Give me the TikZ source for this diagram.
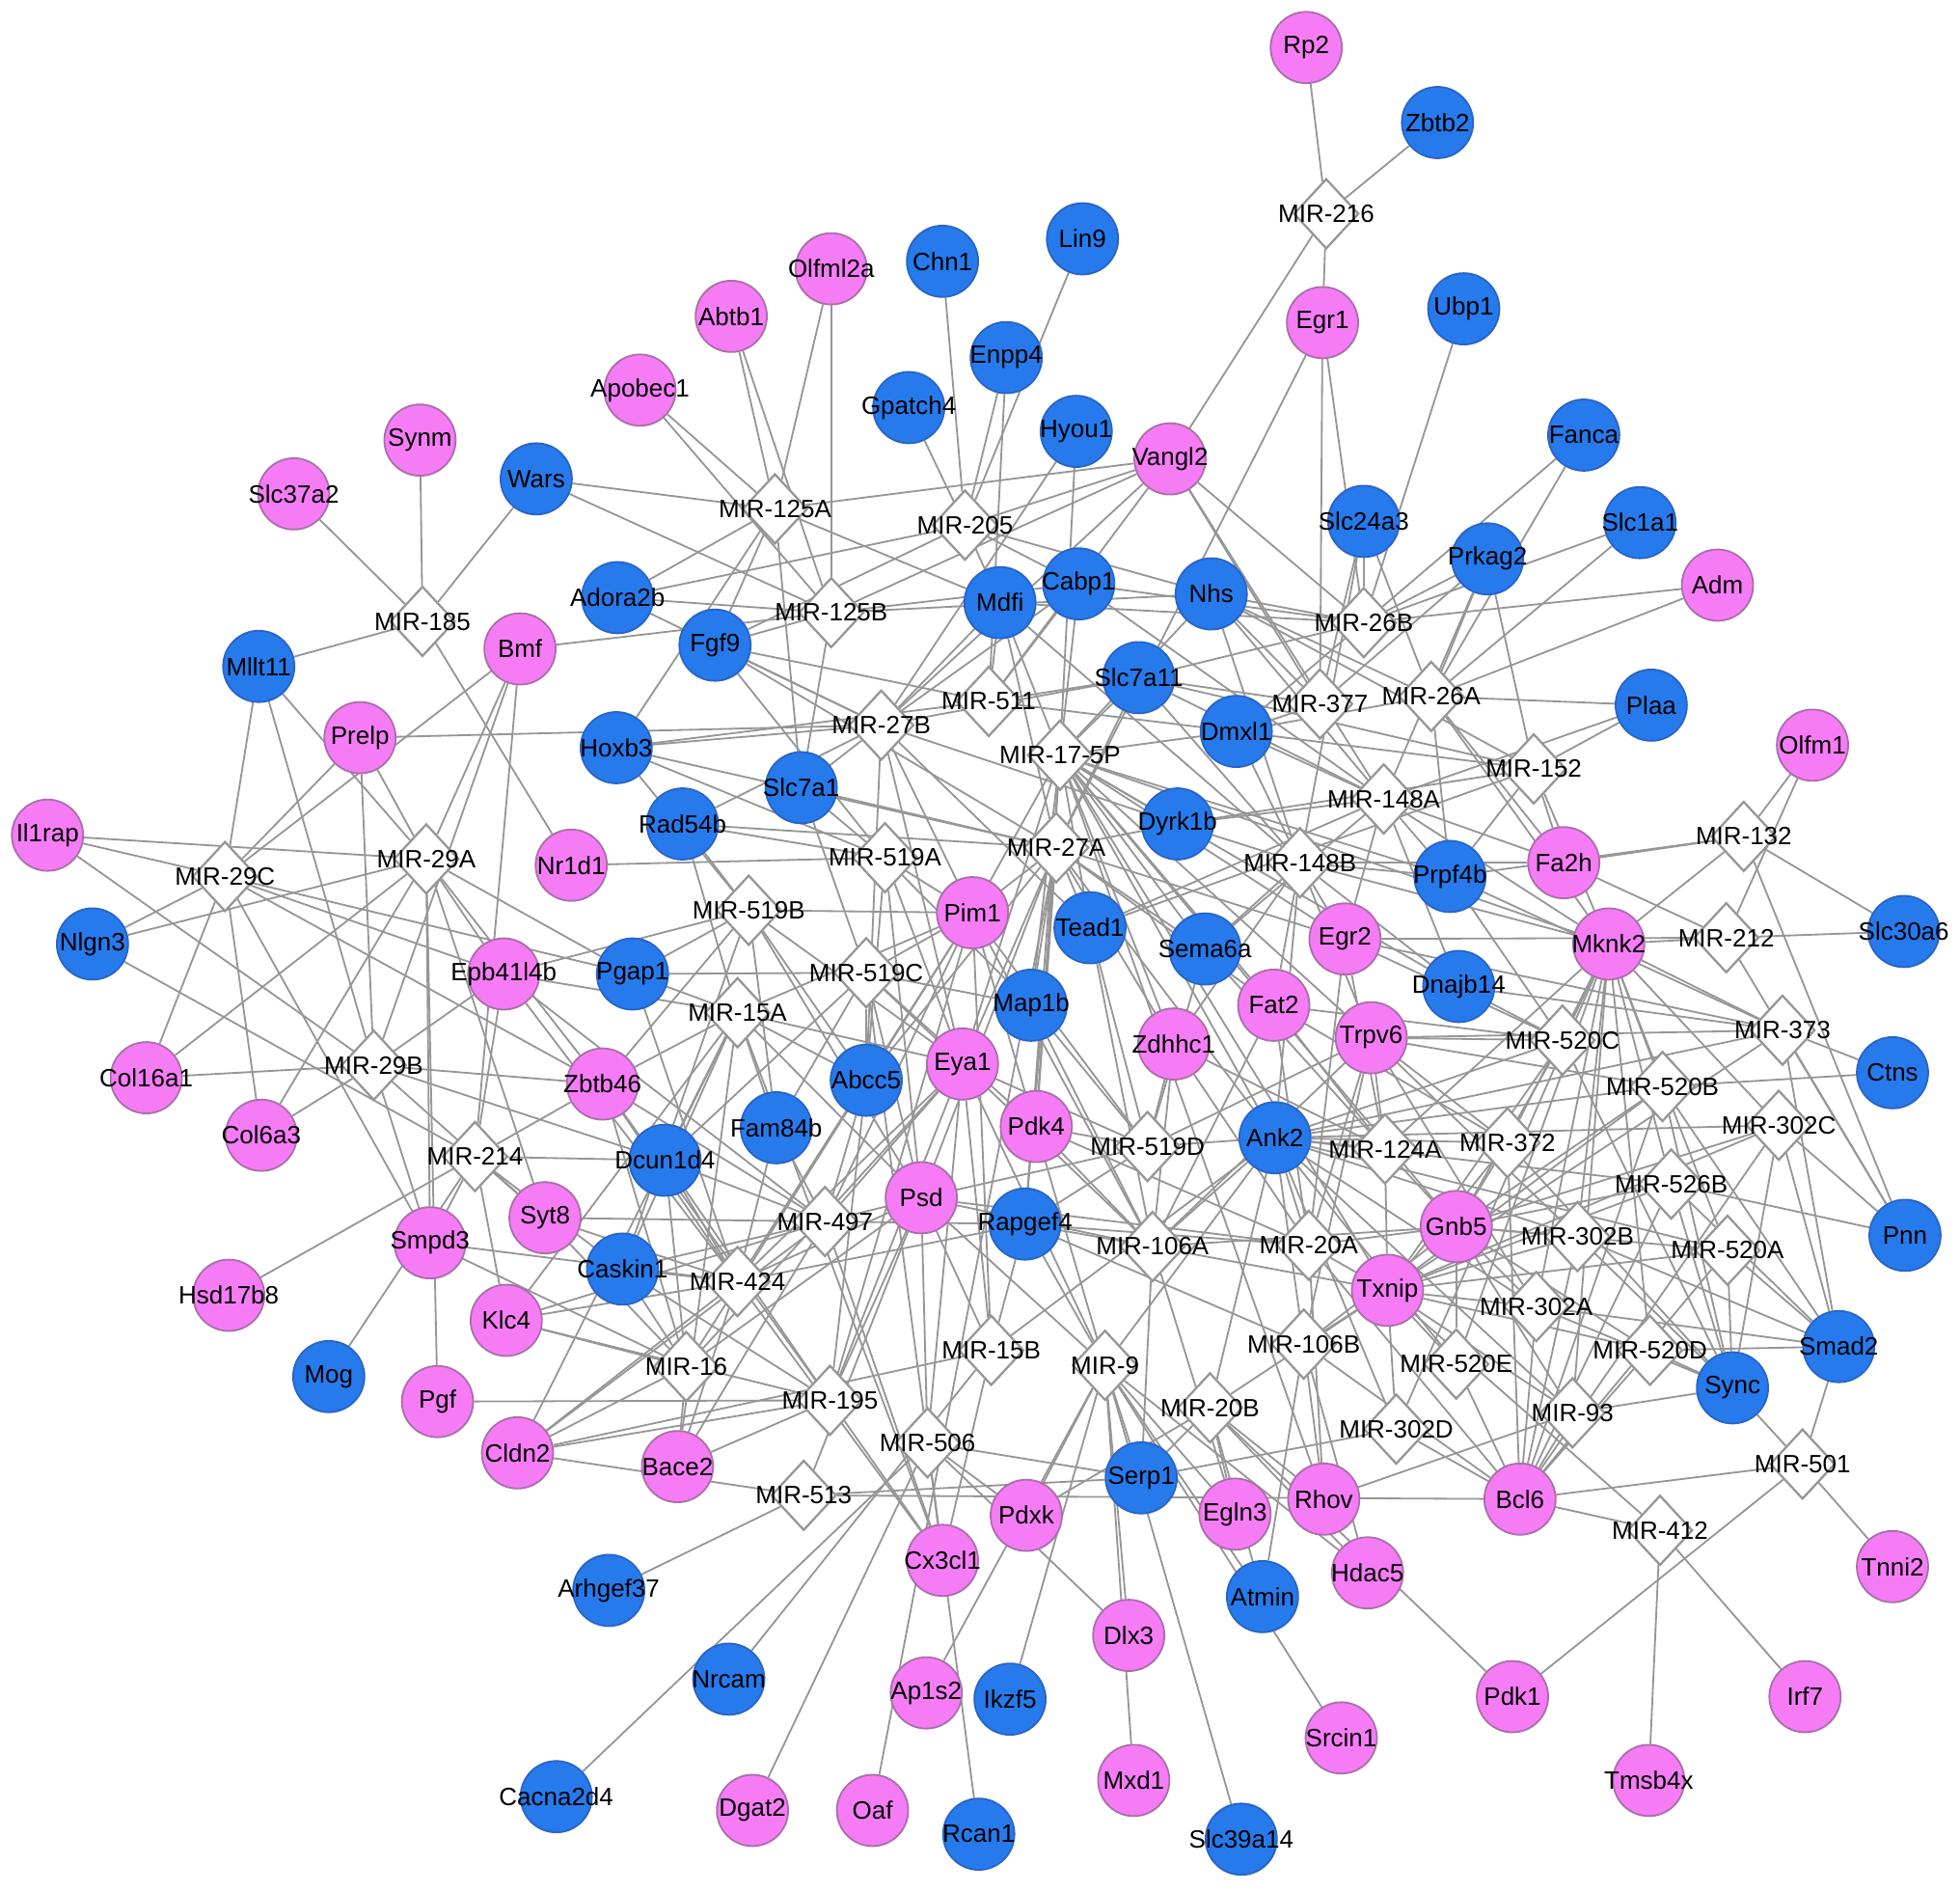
\documentclass[tikz,border=0pt]{standalone}
\usepackage{fontspec}
\setmainfont{Liberation Sans}
\usetikzlibrary{shapes.geometric}
\pgfdeclarelayer{back}
\pgfdeclarelayer{bg}
\pgfsetlayers{back,bg,main}
\definecolor{pk}{RGB}{246,124,246}
\definecolor{pkd}{RGB}{170,110,170}
\definecolor{bl}{RGB}{38,122,236}
\definecolor{bld}{RGB}{40,100,200}
\definecolor{lnc}{RGB}{150,150,150}
\newcommand\nodefont{\fontsize{5.7}{6.5}\selectfont}
\newcommand\gn[4]{\node[#1,label={center:#4}] (#2) at (#3) {};}
\tikzset{
  gp/.style={circle, fill=pk, draw=pkd, line width=0.4pt, minimum size=0.57cm, inner sep=0pt},
  gb/.style={circle, fill=bl, draw=bld, line width=0.4pt, minimum size=0.57cm, inner sep=0pt},
  mir/.style={diamond, fill=white, draw=lnc, line width=0.5pt, minimum width=0.52cm, minimum height=0.56cm, inner sep=0pt},
  lnk/.style={draw=lnc, line width=0.4pt},
  every label/.style={font=\nodefont, inner sep=0pt, text=black}
}
\begin{document}
\begin{tikzpicture}[x=0.01cm,y=-0.01cm]
\begin{pgfonlayer}{back}
\fill[white] (0,0) rectangle (1568,1512);
\end{pgfonlayer}
\useasboundingbox (0,0) rectangle (1568,1512);
% miRNA diamonds
\gn{mir}{m216}{1061,171}{MIR-216}
\gn{mir}{m125a}{620,407}{MIR-125A}
\gn{mir}{m205}{772,420}{MIR-205}
\gn{mir}{m185}{338,497}{MIR-185}
\gn{mir}{m125b}{665,490}{MIR-125B}
\gn{mir}{m26b}{1091,498}{MIR-26B}
\gn{mir}{m26a}{1145,557}{MIR-26A}
\gn{mir}{m511}{791,561}{MIR-511}
\gn{mir}{m377}{1056,563}{MIR-377}
\gn{mir}{m27b}{705,580}{MIR-27B}
\gn{mir}{m175p}{848,604}{MIR-17-5P}
\gn{mir}{m152}{1227,615}{MIR-152}
\gn{mir}{m148a}{1107,639}{MIR-148A}
\gn{mir}{m132}{1395,669}{MIR-132}
\gn{mir}{m27a}{845,678}{MIR-27A}
\gn{mir}{m519a}{708,686}{MIR-519A}
\gn{mir}{m29a}{341,687}{MIR-29A}
\gn{mir}{m29c}{180,701}{MIR-29C}
\gn{mir}{m148b}{1040,690}{MIR-148B}
\gn{mir}{m519b}{599,728}{MIR-519B}
\gn{mir}{m212}{1381,750}{MIR-212}
\gn{mir}{m519c}{693,778}{MIR-519C}
\gn{mir}{m15a}{590,810}{MIR-15A}
\gn{mir}{m373}{1426,824}{MIR-373}
\gn{mir}{m520c}{1250,832}{MIR-520C}
\gn{mir}{m29b}{299,852}{MIR-29B}
\gn{mir}{m520b}{1330,869}{MIR-520B}
\gn{mir}{m302c}{1423,900}{MIR-302C}
\gn{mir}{m519d}{918,917}{MIR-519D}
\gn{mir}{m124a}{1108,919}{MIR-124A}
\gn{mir}{m372}{1206,914}{MIR-372}
\gn{mir}{m214}{380,925}{MIR-214}
\gn{mir}{m526b}{1337,947}{MIR-526B}
\gn{mir}{m497}{660,977}{MIR-497}
\gn{mir}{m106a}{922,997}{MIR-106A}
\gn{mir}{m20a}{1047,996}{MIR-20A}
\gn{mir}{m302b}{1262,989}{MIR-302B}
\gn{mir}{m520a}{1382,1000}{MIR-520A}
\gn{mir}{m424}{590,1025}{MIR-424}
\gn{mir}{m302a}{1229,1045}{MIR-302A}
\gn{mir}{m106b}{1043,1075}{MIR-106B}
\gn{mir}{m520d}{1320,1080}{MIR-520D}
\gn{mir}{m15b}{793,1080}{MIR-15B}
\gn{mir}{m9}{884,1092}{MIR-9}
\gn{mir}{m520e}{1165,1091}{MIR-520E}
\gn{mir}{m16}{549,1093}{MIR-16}
\gn{mir}{m195}{664,1120}{MIR-195}
\gn{mir}{m302d}{1117,1143}{MIR-302D}
\gn{mir}{m93}{1258,1130}{MIR-93}
\gn{mir}{m20b}{968,1126}{MIR-20B}
\gn{mir}{m506}{742,1154}{MIR-506}
\gn{mir}{m501}{1442,1171}{MIR-501}
\gn{mir}{m513}{643,1196}{MIR-513}
\gn{mir}{m412}{1328,1224}{MIR-412}
% pink genes
\gn{gp}{rp2}{1045,38}{Rp2}
\gn{gp}{olfml2a}{665,215}{Olfml2a}
\gn{gp}{abtb1}{585,253}{Abtb1}
\gn{gp}{egr1}{1058,258}{Egr1}
\gn{gp}{apobec1}{512,312}{Apobec1}
\gn{gp}{synm}{336,352}{Synm}
\gn{gp}{slc37a2}{235,395}{Slc37a2}
\gn{gp}{vangl2}{936,367}{Vangl2}
\gn{gp}{adm}{1374,468}{Adm}
\gn{gp}{bmf}{416,519}{Bmf}
\gn{gp}{prelp}{288,590}{Prelp}
\gn{gp}{olfm1}{1450,596}{Olfm1}
\gn{gp}{il1rap}{38,668}{Il1rap}
\gn{gp}{nr1d1}{457,692}{Nr1d1}
\gn{gp}{fa2h}{1251,690}{Fa2h}
\gn{gp}{pim1}{778,730}{Pim1}
\gn{gp}{mknk2}{1287,755}{Mknk2}
\gn{gp}{egr2}{1076,751}{Egr2}
\gn{gp}{epb}{403,779}{Epb41l4b}
\gn{gp}{fat2}{1019,804}{Fat2}
\gn{gp}{trpv6}{1097,830}{Trpv6}
\gn{gp}{zdhhc1}{939,835}{Zdhhc1}
\gn{gp}{eya1}{770,851}{Eya1}
\gn{gp}{col16a1}{117,862}{Col16a1}
\gn{gp}{zbtb46}{482,867}{Zbtb46}
\gn{gp}{col6a3}{209,908}{Col6a3}
\gn{gp}{pdk4}{829,901}{Pdk4}
\gn{gp}{psd}{737,958}{Psd}
\gn{gp}{syt8}{436,974}{Syt8}
\gn{gp}{gnb5}{1165,981}{Gnb5}
\gn{gp}{smpd3}{344,994}{Smpd3}
\gn{gp}{txnip}{1110,1032}{Txnip}
\gn{gp}{hsd17b8}{183,1036}{Hsd17b8}
\gn{gp}{klc4}{405,1056}{Klc4}
\gn{gp}{pgf}{350,1121}{Pgf}
\gn{gp}{cldn2}{414,1162}{Cldn2}
\gn{gp}{bace2}{542,1173}{Bace2}
\gn{gp}{rhov}{1059,1199}{Rhov}
\gn{gp}{bcl6}{1216,1199}{Bcl6}
\gn{gp}{pdxk}{821,1212}{Pdxk}
\gn{gp}{egln3}{988,1211}{Egln3}
\gn{gp}{cx3cl1}{754,1248}{Cx3cl1}
\gn{gp}{hdac5}{1094,1258}{Hdac5}
\gn{gp}{tnni2}{1514,1253}{Tnni2}
\gn{gp}{dlx3}{903,1308}{Dlx3}
\gn{gp}{ap1s2}{741,1354}{Ap1s2}
\gn{gp}{pdk1}{1210,1357}{Pdk1}
\gn{gp}{irf7}{1444,1357}{Irf7}
\gn{gp}{srcin1}{1073,1390}{Srcin1}
\gn{gp}{mxd1}{907,1424}{Mxd1}
\gn{gp}{tmsb4x}{1319,1424}{Tmsb4x}
\gn{gp}{dgat2}{602,1448}{Dgat2}
\gn{gp}{oaf}{698,1448}{Oaf}
% blue genes
\gn{gb}{zbtb2}{1150,98}{Zbtb2}
\gn{gb}{lin9}{866,191}{Lin9}
\gn{gb}{chn1}{754,209}{Chn1}
\gn{gb}{ubp1}{1171,247}{Ubp1}
\gn{gb}{enpp4}{805,286}{Enpp4}
\gn{gb}{gpatch4}{727,326}{Gpatch4}
\gn{gb}{hyou1}{861,345}{Hyou1}
\gn{gb}{fanca}{1267,348}{Fanca}
\gn{gb}{wars}{429,383}{Wars}
\gn{gb}{slc24a3}{1091,417}{Slc24a3}
\gn{gb}{slc1a1}{1312,418}{Slc1a1}
\gn{gb}{prkag2}{1190,447}{Prkag2}
\gn{gb}{cabp1}{863,467}{Cabp1}
\gn{gb}{nhs}{969,475}{Nhs}
\gn{gb}{mdfi}{800,482}{Mdfi}
\gn{gb}{adora2b}{494,478}{Adora2b}
\gn{gb}{fgf9}{572,516}{Fgf9}
\gn{gb}{mllt11}{207,533}{Mllt11}
\gn{gb}{slc7a11}{911,542}{Slc7a11}
\gn{gb}{plaa}{1321,564}{Plaa}
\gn{gb}{dmxl1}{989,585}{Dmxl1}
\gn{gb}{hoxb3}{493,598}{Hoxb3}
\gn{gb}{slc7a1}{641,630}{Slc7a1}
\gn{gb}{rad54b}{546,659}{Rad54b}
\gn{gb}{dyrk1b}{942,659}{Dyrk1b}
\gn{gb}{prpf4b}{1160,701}{Prpf4b}
\gn{gb}{slc30a6}{1523,745}{Slc30a6}
\gn{gb}{nlgn3}{74,755}{Nlgn3}
\gn{gb}{tead1}{872,742}{Tead1}
\gn{gb}{sema6a}{964,759}{Sema6a}
\gn{gb}{pgap1}{506,779}{Pgap1}
\gn{gb}{map1b}{825,804}{Map1b}
\gn{gb}{dnajb14}{1167,789}{Dnajb14}
\gn{gb}{abcc5}{693,864}{Abcc5}
\gn{gb}{ctns}{1514,858}{Ctns}
\gn{gb}{fam84b}{621,902}{Fam84b}
\gn{gb}{ank2}{1020,910}{Ank2}
\gn{gb}{dcun1d4}{532,928}{Dcun1d4}
\gn{gb}{rapgef4}{820,979}{Rapgef4}
\gn{gb}{pnn}{1524,988}{Pnn}
\gn{gb}{caskin1}{498,1015}{Caskin1}
\gn{gb}{smad2}{1471,1077}{Smad2}
\gn{gb}{sync}{1386,1110}{Sync}
\gn{gb}{mog}{263,1101}{Mog}
\gn{gb}{serp1}{913,1182}{Serp1}
\gn{gb}{arhgef37}{487,1272}{Arhgef37}
\gn{gb}{atmin}{1010,1277}{Atmin}
\gn{gb}{nrcam}{583,1343}{Nrcam}
\gn{gb}{ikzf5}{808,1359}{Ikzf5}
\gn{gb}{cacna2d4}{445,1437}{Cacna2d4}
\gn{gb}{rcan1}{783,1467}{Rcan1}
\gn{gb}{slc39a14}{993,1471}{Slc39a14}
% connectors
\begin{pgfonlayer}{bg}
\foreach \g/\ms in {
rp2/{m216}, zbtb2/{m216}, egr1/{m216,m26b,m377,m27a},
vangl2/{m216,m125a,m205,m125b,m27b,m511,m26b,m377,m148a},
lin9/{m205}, chn1/{m205}, enpp4/{m205,m511}, gpatch4/{m205}, hyou1/{m175p,m27b},
olfml2a/{m125a,m125b}, abtb1/{m125a,m125b}, apobec1/{m125a,m125b},
synm/{m185}, slc37a2/{m185}, wars/{m185,m125a,m125b}, mllt11/{m185,m29c,m29a,m29b},
nr1d1/{m185,m519a}, ubp1/{m26b}, fanca/{m26b,m26a}, slc1a1/{m26b,m26a}, adm/{m26b,m26a},
slc24a3/{m26b,m377,m26a,m148b}, prkag2/{m26b,m26a,m152,m148a,m377},
plaa/{m152,m148a,m26a}, olfm1/{m132,m212}, slc30a6/{m132,m212}, ctns/{m520b,m373},
pnn/{m302c,m526b,m132,m212,m373},
adora2b/{m125a,m125b,m27b,m205},
fgf9/{m125a,m125b,m27b,m27a,m519a,m205,m511},
hoxb3/{m125a,m27b,m27a,m519a,m519b,m511},
rad54b/{m27b,m519a,m519b,m27a,m15a},
slc7a1/{m125a,m125b,m27b,m27a,m519a,m519c},
bmf/{m125b,m29a,m29c,m214,m29b}, prelp/{m29c,m29a,m29b,m27b},
il1rap/{m29c,m29a,m29b}, nlgn3/{m29c,m29a,m214}, col16a1/{m29c,m29a,m29b}, col6a3/{m29c,m29a,m29b},
mdfi/{m125a,m205,m511,m27b,m27a,m175p,m26b,m148b},
cabp1/{m205,m511,m27b,m175p,m26b,m125b,m148a},
nhs/{m205,m125b,m26b,m26a,m377,m148a,m148b,m175p,m152},
slc7a11/{m511,m27b,m175p,m27a,m26b,m377,m148a,m148b,m152},
dmxl1/{m377,m26a,m26b,m148a,m148b,m152,m175p,m511},
dyrk1b/{m175p,m27a,m148a,m148b,m152,m27b},
prpf4b/{m148a,m148b,m152,m132,m26a,m175p,m520c,m373},
fa2h/{m132,m152,m26a,m148a,m148b,m212},
mknk2/{m26a,m152,m132,m212,m373,m520c,m520b,m302c,m526b,m302b,m520a,m302a,m520d,m520e,m372,m124a,m148a,m148b,m175p,m93,m302d},
smad2/{m373,m302c,m520b,m526b,m520a,m302b,m520d,m302a,m501},
sync/{m302c,m520b,m526b,m520a,m302b,m302a,m520d,m93,m501,m372,m520c},
dnajb14/{m148a,m148b,m520c,m373,m175p},
egr2/{m148a,m148b,m175p,m27a,m520c,m373,m212,m124a,m20a},
fat2/{m175p,m148b,m124a,m20a,m106a,m372,m520c,m27a},
trpv6/{m148b,m175p,m520c,m373,m520b,m372,m124a,m302b,m302a,m20a,m106a,m106b,m519d},
ank2/{m175p,m27a,m148b,m519d,m124a,m372,m520c,m520b,m373,m302c,m526b,m302b,m520a,m302a,m20a,m106a,m106b,m20b,m93,m9,m15b,m520e,m302d},
gnb5/{m124a,m372,m520c,m520b,m302c,m526b,m302b,m520a,m302a,m520d,m93,m20a,m106a,m106b,m175p,m520e},
txnip/{m124a,m372,m520c,m520b,m302c,m526b,m302b,m520a,m302a,m520d,m93,m20a,m106a,m106b,m175p,m20b,m302d,m520e,m373,m412},
bcl6/{m93,m520d,m302a,m302b,m520a,m526b,m520e,m302d,m106b,m20a,m501,m412,m513,m372,m302c,m520b},
zdhhc1/{m175p,m27a,m519d,m106a,m20a,m124a,m148b},
sema6a/{m175p,m27a,m148a,m148b,m519d,m124a},
tead1/{m175p,m27a,m27b,m519d,m106a,m148a,m152},
map1b/{m27a,m175p,m519a,m519c,m519d,m106a},
pim1/{m27a,m27b,m175p,m519a,m519b,m519c,m519d,m15a,m497,m424,m195,m16,m15b,m106a,m9},
eya1/{m519a,m519b,m519c,m519d,m15a,m497,m424,m195,m16,m15b,m506,m27a,m27b,m106a,m9,m175p},
pdk4/{m175p,m519d,m106a,m20a,m27a,m519c},
psd/{m519a,m519b,m519c,m519d,m15a,m497,m424,m195,m16,m15b,m506,m27a,m106a,m9,m20a,m513},
rapgef4/{m519d,m106a,m20a,m15b,m9,m497,m424,m27a,m175p,m106b},
abcc5/{m519a,m519b,m519c,m27a,m27b,m15a,m497,m195},
fam84b/{m15a,m519b,m519c,m497,m424},
pgap1/{m29a,m29c,m519b,m519c,m15a,m424},
epb/{m29a,m29b,m29c,m214,m519b,m15a,m424,m497},
zbtb46/{m29a,m29b,m29c,m15a,m519b,m497,m424,m16,m195,m214},
dcun1d4/{m15a,m424,m497,m16,m195,m519c,m214,m29b},
caskin1/{m424,m497,m16,m195,m15a,m214,m519b},
syt8/{m214,m29a,m29b,m497,m424,m16},
smpd3/{m29b,m29a,m214,m16,m424,m29c},
klc4/{m16,m424,m497,m195,m15a,m214},
hsd17b8/{m214}, mog/{m214}, pgf/{m195,m29a},
cldn2/{m16,m424,m497,m15a,m195,m15b,m513},
bace2/{m16,m424,m195,m15a,m497},
cx3cl1/{m506,m195,m15b,m424,m497,m15a},
pdxk/{m9,m506,m20b}, serp1/{m9,m20b,m106a,m506,m513,m302d},
egln3/{m9,m20b,m106a}, rhov/{m106b,m20b,m20a,m93,m175p},
hdac5/{m20b,m9,m106b}, atmin/{m106b,m9,m20b}, srcin1/{m9},
dlx3/{m9,m506}, mxd1/{m9}, ikzf5/{m9}, ap1s2/{m9}, rcan1/{m519c}, oaf/{m27a},
dgat2/{m506}, nrcam/{m15b}, cacna2d4/{m506}, arhgef37/{m513}, slc39a14/{m9},
pdk1/{m501,m20b}, irf7/{m412}, tmsb4x/{m412}, tnni2/{m501}%
}{
  \foreach \m in \ms { \draw[lnk] (\g) -- (\m); }
}
\end{pgfonlayer}
\end{tikzpicture}
\end{document}
